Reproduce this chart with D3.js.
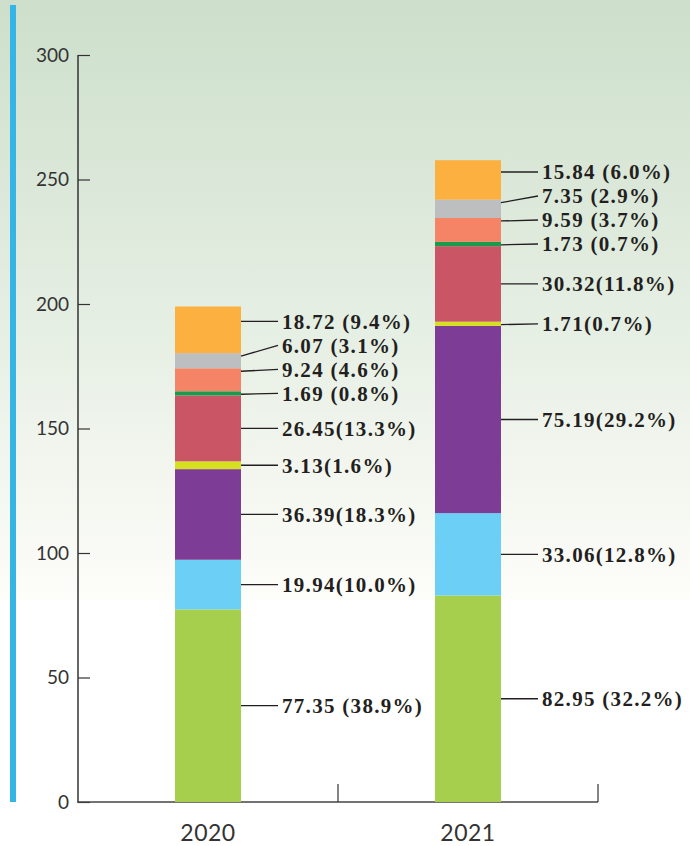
<!DOCTYPE html>
<html>
<head>
<meta charset="utf-8">
<script src="https://cdn.jsdelivr.net/npm/d3@7"></script>
<style>
body{margin:0;padding:0;background:#fff;}
svg{display:block;}
</style>
</head>
<body>
<svg id="chart" width="690" height="846"></svg>
<script>
// years on the x axis
var years = ["2020", "2021"];
// stack order, bottom to top
var colors = ["#a7cf4e", "#6bcff6", "#7d3c96", "#d7df21", "#c95565", "#1a9b4b", "#f58466", "#bcbec0", "#fbb040"];
var values2020 = [77.35, 19.94, 36.39, 3.13, 26.45, 1.69, 9.24, 6.07, 18.72];
var values2021 = [82.95, 33.06, 75.19, 1.71, 30.32, 1.73, 9.59, 7.35, 15.84];
var labels2020 = ["77.35 (38.9%)", "19.94(10.0%)", "36.39(18.3%)", "3.13(1.6%)", "26.45(13.3%)", "1.69 (0.8%)", "9.24 (4.6%)", "6.07 (3.1%)", "18.72 (9.4%)"];
var labels2021 = ["82.95 (32.2%)", "33.06(12.8%)", "75.19(29.2%)", "1.71(0.7%)", "30.32(11.8%)", "1.73 (0.7%)", "9.59 (3.7%)", "7.35 (2.9%)", "15.84 (6.0%)"];
var yTicks = [0, 50, 100, 150, 200, 250, 300];

var svg = d3.select("#chart");

// background gradient, fading to white
var defs = svg.append("defs");
var grad = defs.append("linearGradient")
	.attr("id", "bg")
	.attr("x1", 0).attr("y1", 0).attr("x2", 0).attr("y2", 1);
grad.append("stop").attr("offset", "0%").attr("stop-color", "#cddfcb");
grad.append("stop").attr("offset", "55%").attr("stop-color", "#e6efe4");
grad.append("stop").attr("offset", "85%").attr("stop-color", "#f6f8f2");
grad.append("stop").attr("offset", "100%").attr("stop-color", "#fdfdfa");
svg.append("rect")
	.attr("x", 0).attr("y", 0)
	.attr("width", 690).attr("height", 600)
	.attr("fill", "url(#bg)");

// blue side bar
svg.append("rect")
	.attr("x", 10).attr("y", 5)
	.attr("width", 6).attr("height", 797)
	.attr("fill", "#35b5e6");

var y = d3.scaleLinear().domain([0, 300]).range([802, 55]);
var x = d3.scaleBand().domain(years).range([78, 598]).paddingInner(0).paddingOuter(0);
var barW = 66;

// y axis: ticks point inward
var yAxis = svg.append("g").attr("transform", "translate(78,0)")
	.call(d3.axisRight(y).tickValues(yTicks).tickSize(12).tickFormat(""));
yAxis.select(".domain").remove();
yAxis.selectAll(".tick line").attr("stroke", "#333").attr("stroke-width", 1.2);
svg.append("line")
	.attr("x1", 78).attr("x2", 78)
	.attr("y1", y(300)).attr("y2", y(0) + 1)
	.attr("stroke", "#333").attr("stroke-width", 1.5);
svg.selectAll(".ylab").data(yTicks).enter().append("text")
	.attr("class", "ylab")
	.attr("x", 69)
	.attr("y", function(d){ return y(d); })
	.attr("dy", "0.36em")
	.attr("text-anchor", "end")
	.attr("font-family", "Lato, 'Open Sans', sans-serif")
	.attr("font-size", 19)
	.attr("fill", "#333")
	.text(function(d){ return d; });

// x axis
svg.append("line")
	.attr("x1", 78).attr("x2", 598)
	.attr("y1", y(0)).attr("y2", y(0))
	.attr("stroke", "#444").attr("stroke-width", 1.5);
svg.selectAll(".xtick").data(years).enter().append("line")
	.attr("class", "xtick")
	.attr("x1", function(d){ return x(d) + x.bandwidth(); })
	.attr("x2", function(d){ return x(d) + x.bandwidth(); })
	.attr("y1", y(0)).attr("y2", y(0) - 18)
	.attr("stroke", "#333").attr("stroke-width", 1.2);
svg.selectAll(".xlab").data(years).enter().append("text")
	.attr("class", "xlab")
	.attr("x", function(d){ return x(d) + x.bandwidth() / 2; })
	.attr("y", 841)
	.attr("text-anchor", "middle")
	.attr("font-family", "Lato, 'Open Sans', sans-serif")
	.attr("font-size", 23)
	.attr("letter-spacing", 0.5)
	.attr("fill", "#333")
	.text(function(d){ return d; });

var series = [
	{year: "2020", values: values2020, labels: labels2020},
	{year: "2021", values: values2021, labels: labels2021}
];

series.forEach(function(s){
	var bx = x(s.year) + (x.bandwidth() - barW) / 2;
	var right = bx + barW;
	var cum = 0;
	var segs = s.values.map(function(v, i){
		var seg = {v: v, i: i, y0: y(cum), y1: y(cum + v)};
		cum += v;
		seg.mid = (seg.y0 + seg.y1) / 2;
		return seg;
	});
	var g = svg.append("g");
	g.selectAll("rect").data(segs).enter().append("rect")
		.attr("x", bx)
		.attr("y", function(d){ return d.y1; })
		.attr("width", barW)
		.attr("height", function(d){ return d.y0 - d.y1; })
		.attr("fill", function(d){ return colors[d.i]; });

	// labels: start at segment middle, push up to avoid overlap
	var gap = 24, prev = Infinity;
	segs.forEach(function(d){
		d.ly = Math.min(d.mid, prev - gap);
		prev = d.ly;
	});
	segs.forEach(function(d){
		var sy = Math.max(d.y1 + 3, Math.min(d.y0 - 3, d.ly));
		g.append("line")
			.attr("x1", right).attr("y1", sy)
			.attr("x2", right + 37).attr("y2", d.ly)
			.attr("stroke", "#231f20").attr("stroke-width", 1.3);
		g.append("text")
			.attr("x", right + 41)
			.attr("y", d.ly)
			.attr("dy", "0.35em")
			.attr("font-family", "'Liberation Serif', 'DejaVu Serif', serif")
			.attr("font-weight", "bold")
			.attr("font-size", 21)
			.attr("letter-spacing", 1.3)
			.attr("fill", "#231f20")
			.text(s.labels[d.i]);
	});
});
</script>
</body>
</html>
